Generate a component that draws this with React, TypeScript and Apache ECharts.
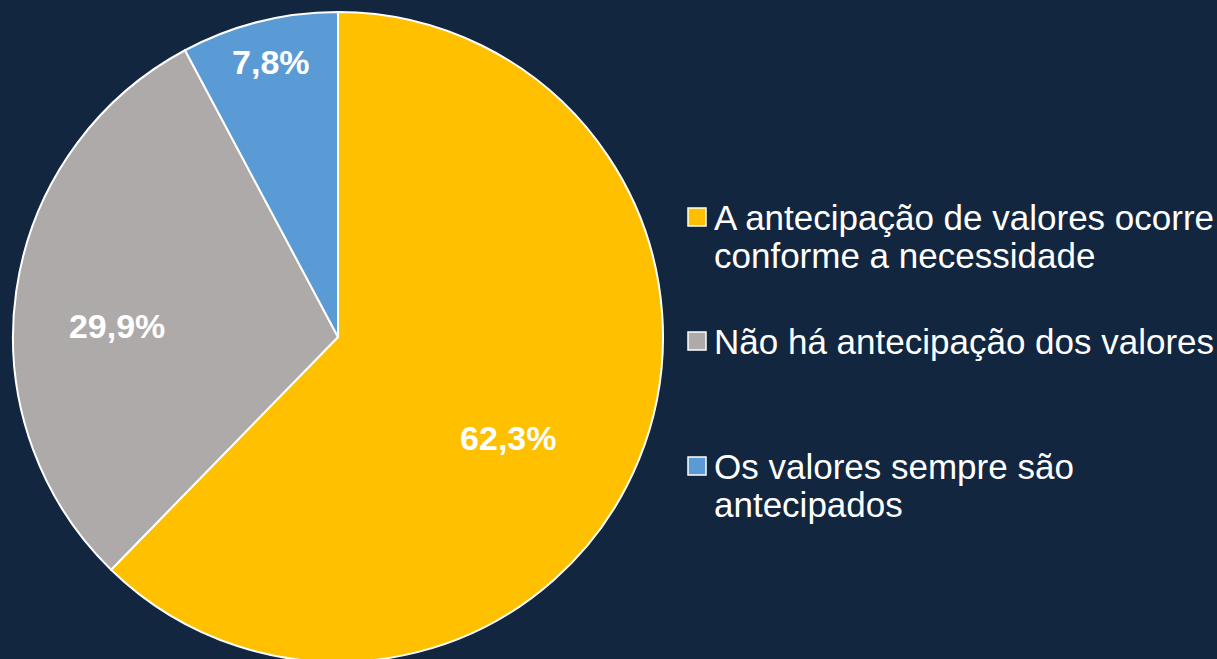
import React, { useEffect, useRef } from "react";
import * as echarts from "echarts";

const categories = [
  "A antecipação de valores ocorre\nconforme a necessidade",
  "Não há antecipação dos valores",
  "Os valores sempre são\nantecipados",
];
const values = [62.3, 29.9, 7.8];
const colors = ["#FFC000", "#AEAAAA", "#5B9BD5"];
const labelOffsets = [
  [17, 39],
  [-57, 12],
  [-27, -114],
];
const legendCenters = [217, 341, 466];

export default function App() {
  const ref = useRef<HTMLDivElement>(null);
  useEffect(() => {
    if (!ref.current) return;
    const chart = echarts.init(ref.current, undefined, { renderer: "svg" });
    const font = "Liberation Sans, Arial, sans-serif";
    const graphics: any[] = [];
    categories.forEach((c, i) => {
      graphics.push({
        type: "rect",
        shape: { x: 688, y: legendCenters[i] - 9, width: 18, height: 18 },
        style: { fill: colors[i], stroke: "#FFFFFF", lineWidth: 1.5 },
      });
      graphics.push({
        type: "text",
        x: 714,
        y: legendCenters[i] - 19,
        style: {
          text: c,
          fill: "#FFFFFF",
          fontSize: 35,
          fontFamily: font,
          lineHeight: 38,
          verticalAlign: "top",
          align: "left",
        },
      });
    });
    chart.setOption({
      animation: false,
      backgroundColor: "#12263F",
      graphic: graphics,
      series: [
        {
          type: "pie",
          center: [338, 337],
          radius: [0, 325],
          startAngle: 90,
          clockwise: true,
          avoidLabelOverlap: false,
          itemStyle: { borderColor: "#FFFFFF", borderWidth: 2 },
          label: {
            show: true,
            position: "inside",
            color: "#FFFFFF",
            fontSize: 34,
            fontWeight: "bold",
            fontFamily: font,
            formatter: (p: any) => p.value.toFixed(1).replace(".", ",") + "%",
          },
          labelLine: { show: false },
          data: values.map((v, i) => ({
            name: categories[i],
            value: v,
            itemStyle: { color: colors[i] },
            label: { offset: labelOffsets[i] },
          })),
        },
      ],
    });
    return () => chart.dispose();
  }, []);
  return (
    <div
      ref={ref}
      style={{ position: "fixed", left: 0, top: 0, width: 1217, height: 659 }}
    />
  );
}
